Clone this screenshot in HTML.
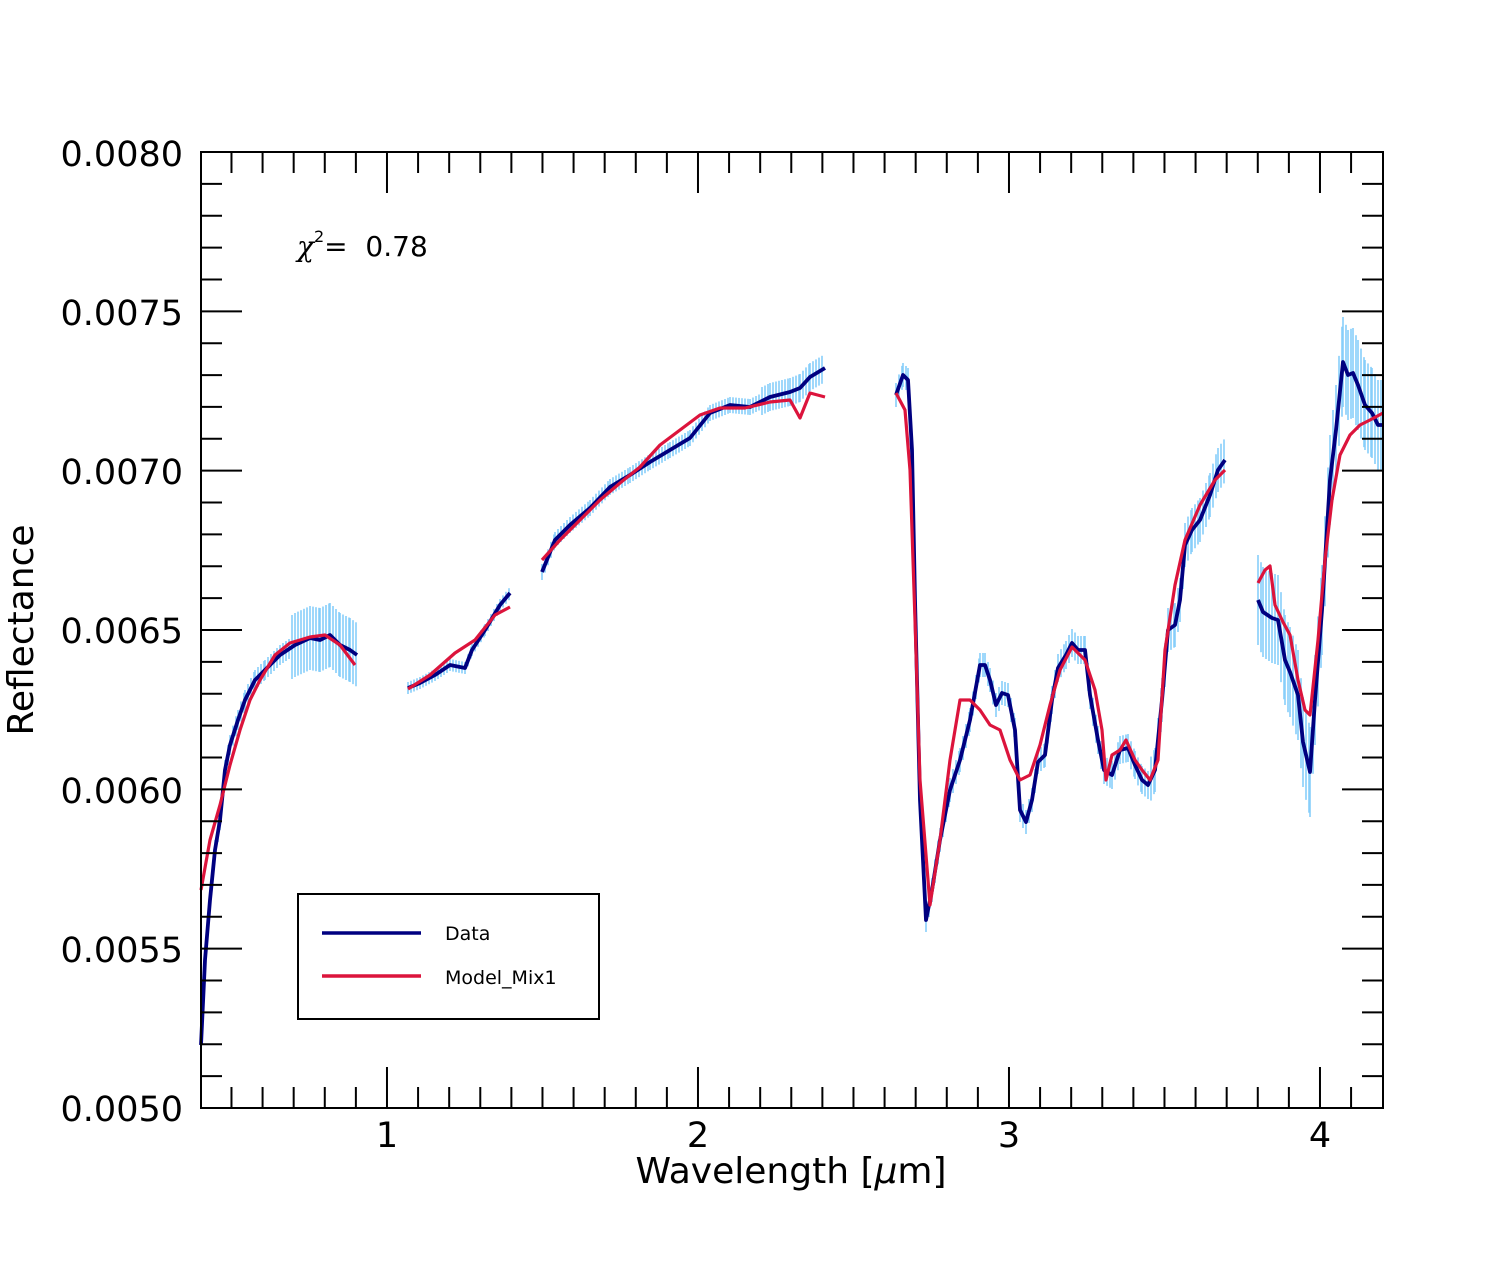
<!DOCTYPE html>
<html><head><meta charset="utf-8"><style>body{margin:0;background:#fff}</style></head><body>
<svg id="s" width="1500" height="1278" xmlns="http://www.w3.org/2000/svg" font-family="DejaVu Sans, Liberation Sans, sans-serif">
<rect width="1500" height="1278" fill="#fff"/>
<g id="err" stroke="#87cefa" stroke-width="1.6"></g>
<g id="lines" fill="none" stroke-linejoin="round"></g>
<g id="ticks" stroke="#000" stroke-width="2"></g>
<rect x="201" y="152" width="1182" height="956" fill="none" stroke="#000" stroke-width="2"/>
<g font-size="35" text-anchor="end">
<text x="183" y="166">0.0080</text><text x="183" y="325">0.0075</text><text x="183" y="484">0.0070</text>
<text x="183" y="643">0.0065</text><text x="183" y="803">0.0060</text><text x="183" y="962">0.0055</text><text x="183" y="1121">0.0050</text>
</g>
<g font-size="35" text-anchor="middle">
<text x="387" y="1147">1</text><text x="698" y="1147">2</text><text x="1009" y="1147">3</text><text x="1320" y="1147">4</text>
<text x="791" y="1183" font-size="36">Wavelength [<tspan font-style="italic">μ</tspan>m]</text>
<text transform="translate(33,630) rotate(-90)" font-size="36">Reflectance</text>
</g>
<text x="297" y="256" font-size="28" xml:space="preserve"><tspan font-style="italic" font-family="DejaVu Serif, serif">χ</tspan><tspan font-size="16" dy="-14">2</tspan><tspan dy="14">=&#160; 0.78</tspan></text>
<rect x="298" y="894" width="301" height="125" fill="#fff" stroke="#000" stroke-width="2"/>
<line x1="322" y1="933" x2="421" y2="933" stroke="#000080" stroke-width="3.5"/>
<line x1="322" y1="976" x2="421" y2="976" stroke="#dc143c" stroke-width="3.5"/>
<text x="445" y="940" font-size="19">Data</text>
<text x="445" y="984" font-size="19">Model_Mix1</text>
</svg>
<script>
var NS="http://www.w3.org/2000/svg";
function el(p,t,a){var e=document.createElementNS(NS,t);for(var k in a)e.setAttribute(k,a[k]);p.appendChild(e);return e;}
var T=document.getElementById("ticks");
for(var i=0;i<=38;i++){var x=201+(0.4+i*0.1-0.402)*311;if(x<202||x>1382)continue;var maj=Math.abs((0.4+i*0.1)-Math.round(0.4+i*0.1))<1e-6;var L=maj?41:21;
el(T,"line",{x1:x,y1:1108,x2:x,y2:1108-L});el(T,"line",{x1:x,y1:152,x2:x,y2:152+L});}
for(var j=1;j<30;j++){var y=1108-j*956/30;var L=(j%5==0)?41:21;el(T,"line",{x1:201,y1:y,x2:201+L,y2:y});el(T,"line",{x1:1383,y1:y,x2:1383-L,y2:y});}
var D=[
[[201,1045],[205,960],[210,900],[215,850],[220,820],[225,770],[230,745],[238,720],[245,700],[255,680],[265,670],[280,655],[295,645],[310,638],[320,640],[330,635],[340,645],[350,650],[357,655]],
[[408,688],[420,683],[435,675],[450,665],[465,668],[472,650],[485,630],[500,605],[510,593]],
[[542,572],[555,540],[570,525],[590,508],[610,487],[630,475],[650,462],[670,450],[690,438],[710,413],[730,405],[750,407],[770,397],[790,392],[800,388],[810,377],[825,368]],
[[896,395],[903,375],[908,380],[912,450],[915,600],[920,800],[926,920],[932,890],[940,840],[950,790],[960,760],[970,720],[980,665],[985,665],[990,680],[996,705],[1002,693],[1008,695],[1015,730],[1020,810],[1026,822],[1032,800],[1038,762],[1045,755],[1052,700],[1058,668],[1066,655],[1072,643],[1078,650],[1085,650],[1090,695],[1098,740],[1104,770],[1112,775],[1120,750],[1128,748],[1135,765],[1142,780],[1148,785],[1155,770],[1162,700],[1168,630],[1175,625],[1180,600],[1185,545],[1192,530],[1200,520],[1210,495],[1218,470],[1225,460]],
[[1258,600],[1263,612],[1272,618],[1278,620],[1285,660],[1290,672],[1298,695],[1303,742],[1310,772],[1315,700],[1322,610],[1330,480],[1336,430],[1343,362],[1348,375],[1353,373],[1358,385],[1365,405],[1372,413],[1378,425],[1383,425]]];
var M=[
[[201,890],[210,840],[220,805],[230,765],[240,730],[250,700],[260,680],[275,655],[290,643],[310,637],[325,635],[340,645],[355,665]],
[[408,689],[430,675],[455,653],[475,640],[495,615],[510,607]],
[[542,560],[560,540],[580,520],[600,500],[620,483],[640,467],[660,445],[680,430],[700,415],[720,408],[745,408],[770,402],[790,400],[800,418],[810,393],[825,397]],
[[896,393],[905,410],[910,470],[915,620],[920,780],[930,905],[940,840],[950,760],[960,700],[970,700],[980,710],[990,725],[1000,730],[1010,760],[1020,780],[1030,775],[1040,745],[1050,705],[1060,670],[1072,647],[1085,660],[1095,690],[1102,730],[1106,780],[1112,755],[1120,750],[1126,740],[1135,760],[1142,770],[1150,780],[1158,760],[1165,650],[1175,585],[1185,540],[1200,505],[1215,480],[1225,470]],
[[1258,583],[1265,570],[1270,566],[1275,605],[1283,622],[1290,635],[1298,680],[1305,710],[1310,715],[1318,640],[1325,560],[1332,500],[1340,455],[1350,435],[1360,425],[1370,420],[1383,413]]];
function errAt(x){if(x<290)return 10;if(x<360)return 32;if(x<520)return 6;if(x<760)return 8;if(x<830)return 14;if(x<1050)return 12;if(x<1230)return (x>1150?22:14);return 45;}
var E=document.getElementById("err"),G=document.getElementById("lines");
D.forEach(function(s){for(var k=0;k<s.length-1;k++){var a=s[k],b=s[k+1];for(var x=a[0];x<b[0];x+=3){var y=a[1]+(b[1]-a[1])*(x-a[0])/(b[0]-a[0]);var e=errAt(x);el(E,"line",{x1:x,y1:y-e,x2:x,y2:y+e});}}
el(G,"polyline",{points:s.join(" "),stroke:"#000080","stroke-width":3.8});});
M.forEach(function(s){el(G,"polyline",{points:s.join(" "),stroke:"#dc143c","stroke-width":3.2});});
</script>
</body></html>
